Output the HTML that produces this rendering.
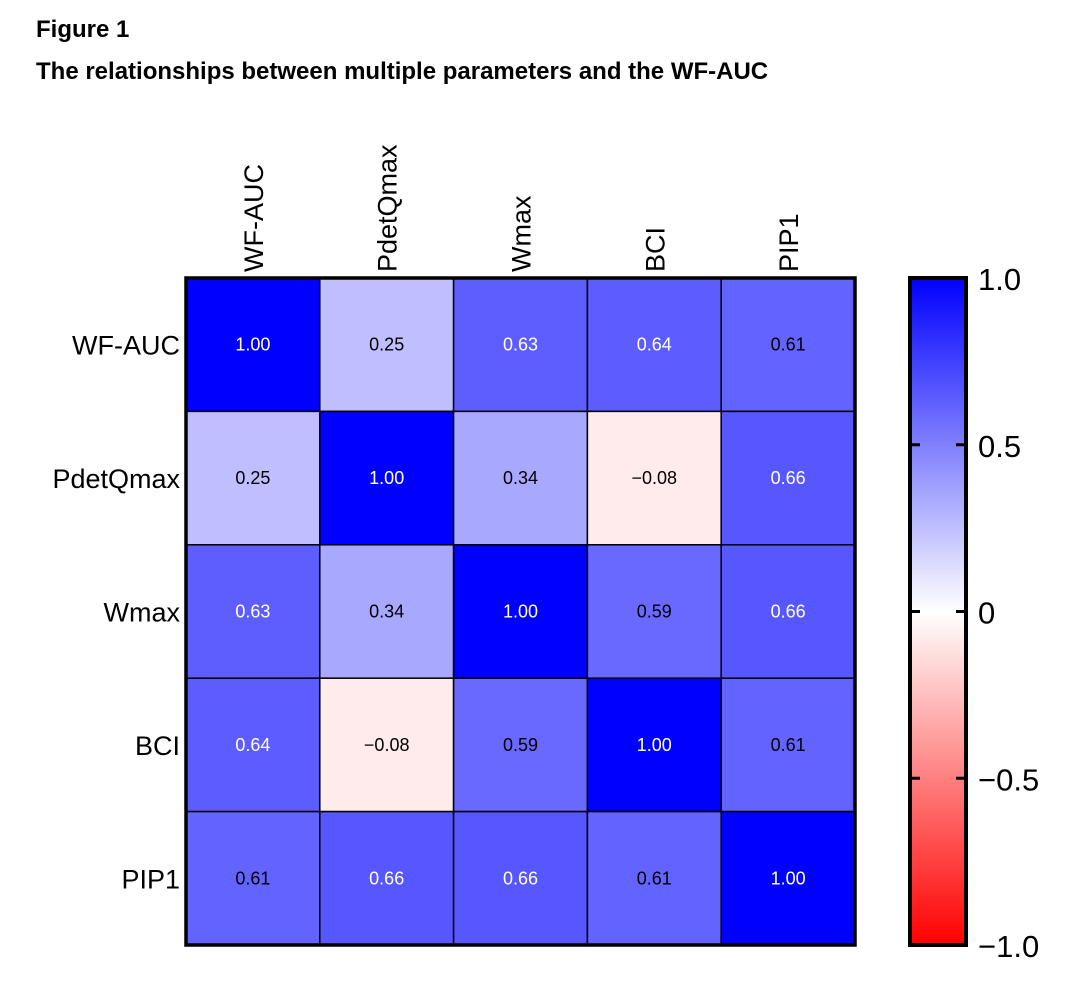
<!DOCTYPE html>
<html><head><meta charset="utf-8"><style>
body{margin:0;background:#fff;width:1080px;height:995px;overflow:hidden;font-family:"Liberation Sans",sans-serif}
.t{position:absolute;left:36px;font-weight:bold;font-size:24px;color:#000}
</style></head><body>
<div class="t" style="top:16px">Figure 1</div>
<div class="t" style="top:58px">The relationships between multiple parameters and the WF-AUC</div>
<svg id="c" width="1080" height="995" style="position:absolute;left:0;top:0">
<defs><linearGradient id="g" x1="0" y1="0" x2="0" y2="1">
<stop offset="0" stop-color="#0000ff"/><stop offset="0.5" stop-color="#ffffff"/><stop offset="1" stop-color="#ff0000"/></linearGradient></defs>
</svg>
<script>
const labels=["WF-AUC","PdetQmax","Wmax","BCI","PIP1"];
const row0=[1.00,0.25,0.63,0.64,0.61];
const row1=[0.25,1.00,0.34,-0.08,0.66];
const row2=[0.63,0.34,1.00,0.59,0.66];
const row3=[0.64,-0.08,0.59,1.00,0.61];
const row4=[0.61,0.66,0.66,0.61,1.00];
const rows=[row0,row1,row2,row3,row4];
const cbTicks=[1.0,0.5,0,-0.5,-1.0];
const cbTickLabels=["1.0","0.5","0","\u22120.5","\u22121.0"];
const svg=document.getElementById('c');const NS="http://www.w3.org/2000/svg";
const X0=186,Y0=278,W=669,H=667,cw=W/5,ch=H/5;
function mk(t,a,p){const e=document.createElementNS(NS,t);for(const k in a)e.setAttribute(k,a[k]);(p||svg).appendChild(e);return e;}
function col(v){if(v>=0){const c=Math.round(255*(1-v));return `rgb(${c},${c},255)`;}const c=Math.round(255*(1+v));return `rgb(255,${c},${c})`;}
function fmt(v){return (v<0?"\u2212":"")+Math.abs(v).toFixed(2);}
const cbY=v=>Y0+(1-v)/2*H;
rows.forEach((r,i)=>r.forEach((v,j)=>{
 const x=X0+j*cw,y=Y0+i*ch;
 const rc=mk('rect',{x:x,y:y,width:cw,height:ch,fill:col(v),stroke:'#000','stroke-width':1.5});
 
 
 const t=mk('text',{x:x+cw/2,y:y+ch/2+6,'text-anchor':'middle','font-size':18,fill:v>0.62?'#fff':'#000'});
 t.textContent=fmt(v);
 
 
}));
const fr=mk('rect',{x:X0,y:Y0,width:W,height:H,fill:'none',stroke:'#000','stroke-width':3.5});


labels.forEach((l,i)=>{
 const t=mk('text',{x:X0-6,y:Y0+i*ch+ch/2+10,'text-anchor':'end','font-size':27});
 t.textContent=l;
 
 
 const cx=X0+i*cw+cw/2+10;
 const u=mk('text',{x:cx,y:Y0-6,transform:`rotate(-90 ${cx} ${Y0-6})`,'font-size':27});
 u.textContent=l;
 
 
});
const cb=mk('rect',{x:910,y:Y0,width:56,height:H,fill:'url(#g)',stroke:'#000','stroke-width':4});


cbTicks.forEach((v,k)=>{
 const y=cbY(v);
 if(k>0&&k<cbTicks.length-1){mk('line',{x1:910,x2:920,y1:y,y2:y,stroke:'#000','stroke-width':3});mk('line',{x1:956,x2:966,y1:y,y2:y,stroke:'#000','stroke-width':3});}
 const t=mk('text',{x:978,y:y+12,'font-size':31});
 t.textContent=cbTickLabels[k];
 
 
});
</script>
</body></html>
